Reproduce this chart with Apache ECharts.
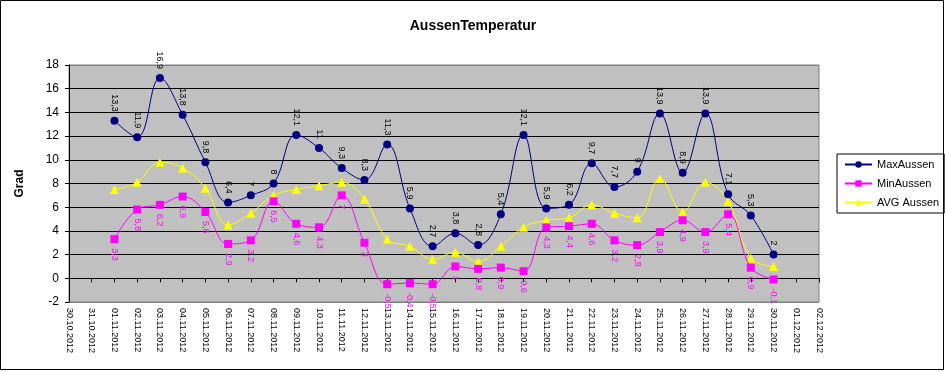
<!DOCTYPE html>
<html>
<head>
<meta charset="utf-8">
<script src="https://cdn.jsdelivr.net/npm/echarts@6/dist/echarts.min.js"></script>
<style>
html,body{margin:0;padding:0;background:#fff;}
#c{width:946px;height:371px;}
</style>
</head>
<body>
<div id="c"></div>
<script>
const categories = ['30.10.2012','31.10.2012','01.11.2012','02.11.2012','03.11.2012','04.11.2012','05.11.2012','06.11.2012','07.11.2012','08.11.2012','09.11.2012','10.11.2012','11.11.2012','12.11.2012','13.11.2012','14.11.2012','15.11.2012','16.11.2012','17.11.2012','18.11.2012','19.11.2012','20.11.2012','21.11.2012','22.11.2012','23.11.2012','24.11.2012','25.11.2012','26.11.2012','27.11.2012','28.11.2012','29.11.2012','30.11.2012','01.12.2012','02.12.2012'];
const maxAussen = [null,null,13.3,11.9,16.9,13.8,9.8,6.4,7,8,12.1,11,9.3,8.3,11.3,5.9,2.7,3.8,2.8,5.4,12.1,5.9,6.2,9.7,7.7,9,13.9,8.9,13.9,7.1,5.3,2,null,null];
const minAussen = [null,null,3.3,5.8,6.2,6.9,5.6,2.9,3.2,6.5,4.6,4.3,7,3,-0.5,-0.4,-0.5,1,0.8,0.9,0.6,4.3,4.4,4.6,3.2,2.8,3.9,4.9,3.9,5.4,0.9,-0.1,null,null];
const avgAussen = [null,null,7.5,8.1,9.8,9.3,7.6,4.5,5.5,7.0,7.5,7.8,8.1,6.7,3.3,2.7,1.6,2.2,1.4,2.7,4.3,4.9,5.1,6.2,5.5,5.1,8.4,5.6,8.1,6.5,1.7,1.0,null,null];
const yTicks = {min: -2, max: 18, interval: 2};

const fmt = p => String(p.value).replace('.', ',');
const font = 'Arial, "Liberation Sans", sans-serif';

const chart = echarts.init(document.getElementById('c'), null, {renderer: 'canvas'});
chart.setOption({
  animation: false,
  backgroundColor: '#fff',
  textStyle: {fontFamily: font},
  title: {
    text: 'AussenTemperatur',
    left: 'center',
    top: 14,
    textStyle: {fontSize: 14, fontWeight: 'bold', color: '#000', fontFamily: font}
  },
  graphic: [{
    type: 'rect', shape: {x: 0.5, y: 0.5, width: 943, height: 369},
    style: {fill: 'none', stroke: '#000', lineWidth: 1}, silent: true, z: 100
  }],
  legend: {
    orient: 'vertical',
    left: 837,
    top: 154,
    padding: [5, 5, 5, 7],
    itemWidth: 27,
    itemHeight: 8,
    itemGap: 8,
    borderColor: '#000',
    borderWidth: 1,
    backgroundColor: '#fff',
    textStyle: {fontSize: 11, color: '#000', fontFamily: font},
    data: ['MaxAussen', 'MinAussen', 'AVG Aussen']
  },
  grid: {
    left: 69, top: 65, width: 750, height: 237,
    show: true, backgroundColor: '#C0C0C0', borderColor: '#808080', borderWidth: 1
  },
  xAxis: [{
    type: 'category',
    data: categories,
    boundaryGap: false,
    position: 'bottom',
    axisLine: {show: false, onZero: false},
    axisTick: {show: false},
    splitLine: {show: false},
    axisLabel: {rotate: -90, interval: 0, fontSize: 9, color: '#000', margin: 6, fontFamily: font}
  }, {
    type: 'category',
    data: categories,
    boundaryGap: false,
    position: 'bottom',
    axisLine: {show: true, onZero: true, lineStyle: {color: '#000', width: 1}},
    axisTick: {show: true, inside: false, length: 4, interval: 0, lineStyle: {color: '#000'}},
    axisLabel: {show: false},
    splitLine: {show: false}
  }],
  yAxis: {
    type: 'value',
    min: yTicks.min, max: yTicks.max, interval: yTicks.interval,
    name: 'Grad',
    nameLocation: 'middle',
    nameRotate: 90,
    nameGap: 43,
    nameTextStyle: {fontSize: 12, fontWeight: 'bold', color: '#000', fontFamily: font},
    axisLine: {show: true, lineStyle: {color: '#000', width: 1}},
    axisTick: {show: true, length: 4, lineStyle: {color: '#000'}},
    axisLabel: {fontSize: 12, color: '#000', margin: 10, fontFamily: font},
    splitLine: {show: true, lineStyle: {color: ['#808080','#000','#000','#000','#000','#000','#000','#000','#000','#000','#808080'], width: 1}}
  },
  series: [{
    name: 'MaxAussen',
    type: 'line',
    xAxisIndex: 0,
    data: maxAussen,
    smooth: 0.4,
    symbol: 'circle',
    symbolSize: 8,
    lineStyle: {color: '#000080', width: 1},
    itemStyle: {color: '#000080'},
    label: {show: true, position: 'top', distance: 5, rotate: -90, align: 'right', verticalAlign: 'middle',
      formatter: fmt, fontSize: 9, color: '#000', fontFamily: font},
    z: 4
  }, {
    name: 'MinAussen',
    type: 'line',
    xAxisIndex: 0,
    data: minAussen,
    smooth: 0.4,
    symbol: 'rect',
    symbolSize: 8,
    lineStyle: {color: '#FF00FF', width: 1},
    itemStyle: {color: '#FF00FF'},
    label: {show: true, position: 'bottom', distance: 5, rotate: -90, align: 'left', verticalAlign: 'middle',
      formatter: fmt, fontSize: 9, color: '#FF00FF', fontFamily: font},
    z: 3
  }, {
    name: 'AVG Aussen',
    type: 'line',
    xAxisIndex: 0,
    data: avgAussen,
    smooth: 0.4,
    symbol: 'triangle',
    symbolSize: 9,
    lineStyle: {color: '#FFFF00', width: 1},
    itemStyle: {color: '#FFFF00'},
    z: 2
  }]
});
</script>
</body>
</html>
